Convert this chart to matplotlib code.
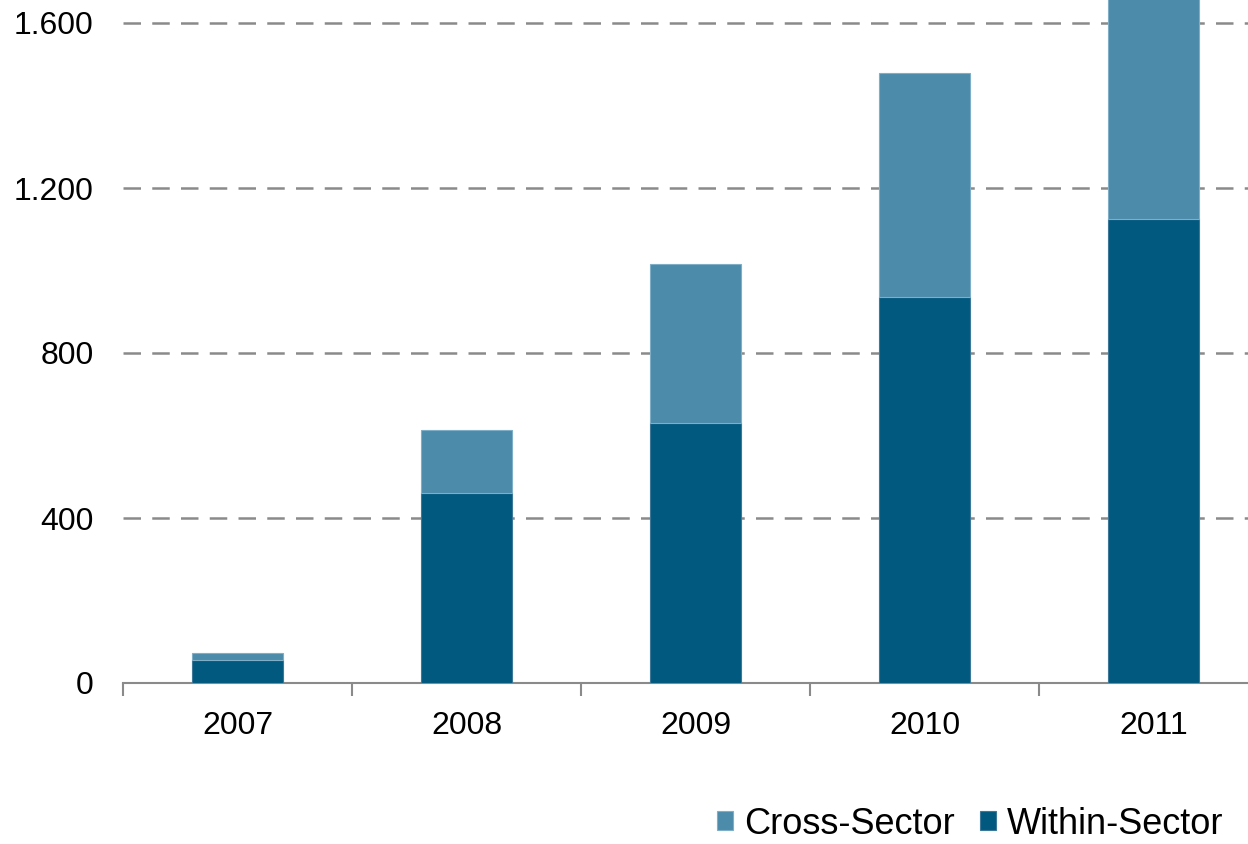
import numpy as np
import matplotlib.pyplot as plt

plt.rcParams['font.family'] = ['Liberation Sans', 'DejaVu Sans']

years = ['2007', '2008', '2009', '2010', '2011']
within_sector = [56, 461, 630, 936, 1125]
total = [73, 613, 1016, 1479, 1720]
cross_sector = [t - w for t, w in zip(total, within_sector)]
yticks = [0, 400, 800, 1200, 1600]
ytick_labels = ['0', '400', '800', '1.200', '1.600']

dark = '#02597F'
light = '#4D8BAA'
gray = '#8A8A8A'

fig = plt.figure(figsize=(12.48, 8.44), dpi=100)
# axes runs past the right and top edges like the source crop
ax = fig.add_axes([123 / 1248, 161 / 844, 1145 / 1248, 1.0])

x = np.arange(len(years))
ax.bar(x, within_sector, width=0.4, color=dark, edgecolor='#3E7898', linewidth=0.8,
       label='Within-Sector', zorder=3)
ax.bar(x, cross_sector, width=0.4, bottom=within_sector, color=light,
       edgecolor='#7FAFC6', linewidth=0.8, label='Cross-Sector', zorder=3)

ax.set_xlim(-0.5, 4.5)
ax.set_ylim(0, 844 / 0.4125)  # 0.4125 px per unit

ax.set_yticks(yticks)
ax.set_yticklabels(ytick_labels, fontsize=23)
ax.tick_params(axis='y', length=0, pad=21)
for yv in yticks[1:]:
    ax.axhline(yv, color=gray, lw=1.8, dashes=(7, 4.5), zorder=1)

ax.set_xticks(x)
ax.set_xticklabels(years, fontsize=23)
ax.set_xticks(np.arange(-0.5, 5, 1), minor=True)
ax.tick_params(axis='x', which='major', length=0, pad=20)
ax.tick_params(axis='x', which='minor', length=9, width=1.5, color=gray, direction='out')

for s in ['top', 'right', 'left']:
    ax.spines[s].set_visible(False)
ax.spines['bottom'].set_color(gray)
ax.spines['bottom'].set_linewidth(1.5)

handles, labels = ax.get_legend_handles_labels()
leg = fig.legend(handles[::-1], labels[::-1], loc='center right',
                 bbox_to_anchor=(1238 / 1248, 1 - 824 / 844), ncol=2, frameon=False,
                 fontsize=26, handlelength=0.45, handleheight=0.45, handletextpad=0.3,
                 columnspacing=0.7, borderaxespad=0)

fig.savefig('out.png', dpi=100)
